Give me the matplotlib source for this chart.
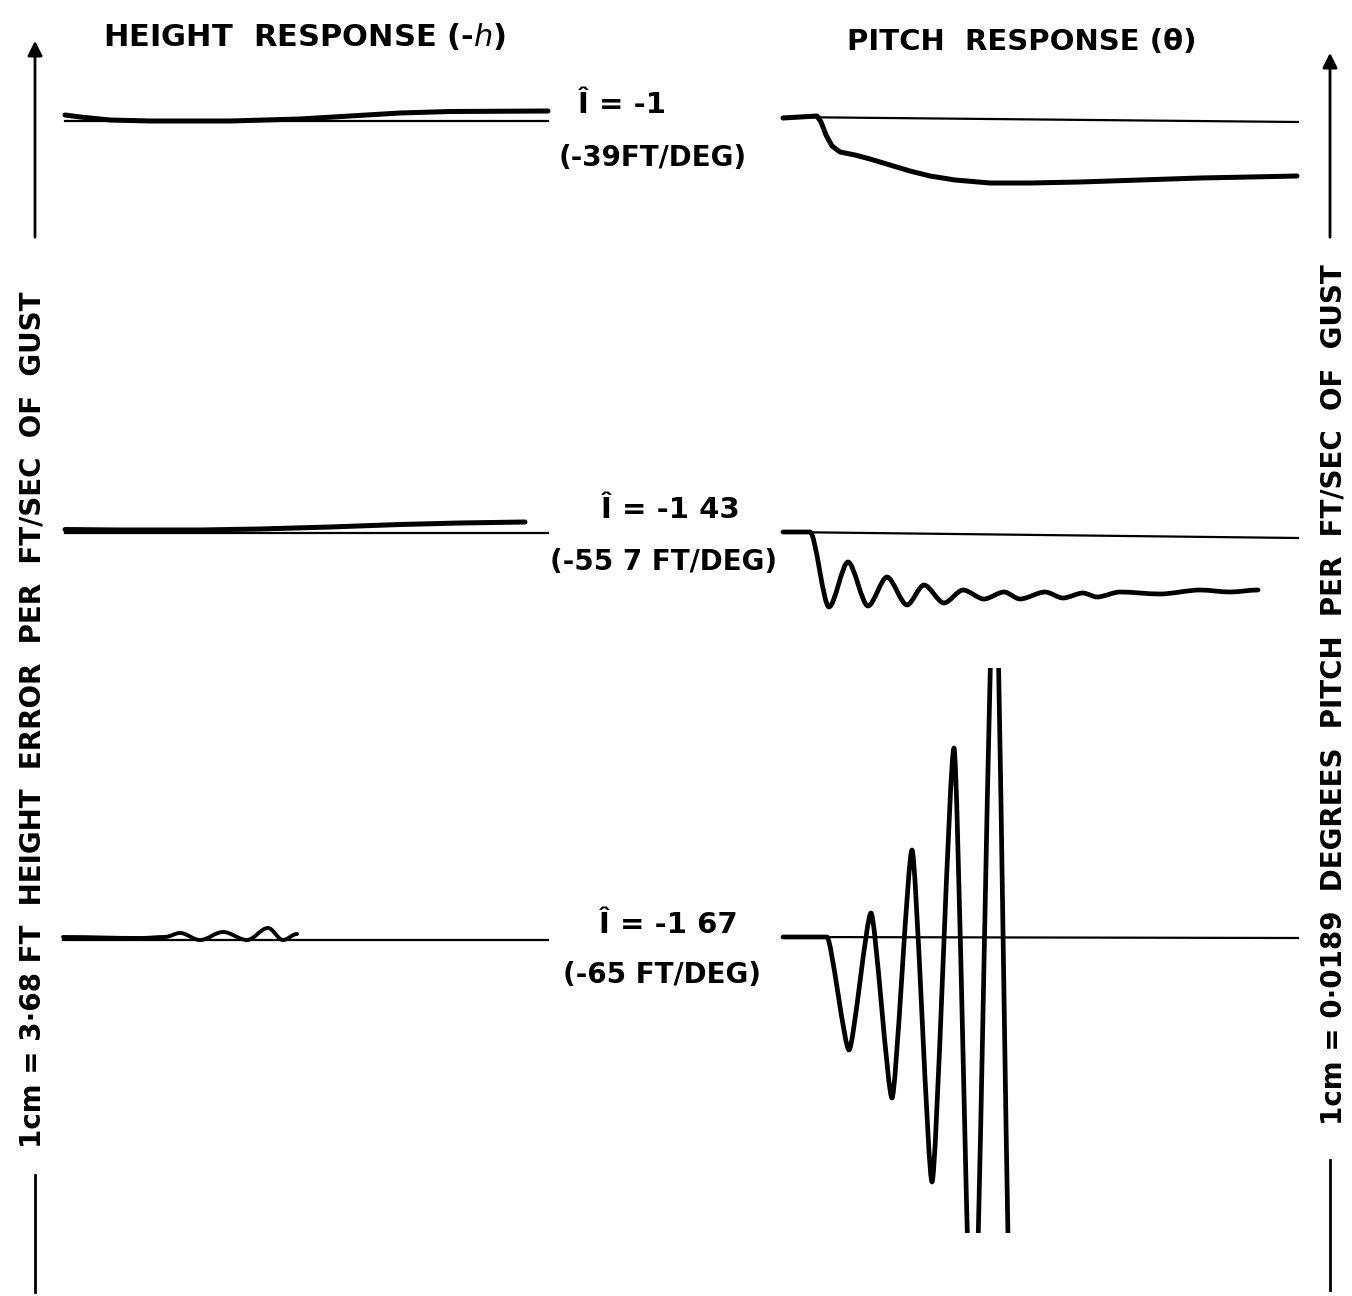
import matplotlib
matplotlib.use("Agg")
import matplotlib.pyplot as plt
from matplotlib.path import Path
from matplotlib.patches import PathPatch

W, H = 1352, 1296

# t = distance along the trace from the panel origin, v = deflection (up positive)
# height response, I = -1
h1_base_t = [5, 488]
h1_base_v = [0, 0]
h1_t = [5, 20, 50, 90, 170, 240, 290, 340, 390, 488]
h1_v = [6, 4, 1, 0, 0, 2, 5, 8, 9.5, 10]

# height response, I = -1.43
h2_base_t = [5, 488]
h2_base_v = [0, 0]
h2_t = [5, 60, 140, 200, 270, 340, 400, 465]
h2_v = [3.5, 3, 3, 4, 6, 8.5, 10, 11]

# height response, I = -1.67 (turning points)
h3_base_t = [3, 488]
h3_base_v = [0, 0]
h3_t = [3, 80, 105, 120, 140, 163, 187, 208, 223, 237]
h3_v = [3, 2, 3, 7, 0, 8, 0, 12, 0, 6]

# pitch response, I = -1
p1_base_t = [3, 518]
p1_base_v = [0, -5]
p1_t = [3, 20, 37, 41, 46, 52, 60, 75, 90, 110, 130, 150, 175, 210, 250, 300, 360, 420, 470, 517]
p1_v = [-1, 0, 1, -5, -18, -29, -35, -38, -42, -48, -54, -59, -63, -66, -66, -65, -63, -61, -60, -59]

# pitch response, I = -1.43 (turning points)
p2_base_t = [3, 518]
p2_base_v = [0, -6]
p2_t = [3, 30, 49, 68, 88, 107, 127, 144, 164, 183, 204, 224, 240, 265, 283, 303, 317, 340, 380, 420, 450, 478]
p2_v = [0, 0, -75, -30, -74, -45, -73, -53, -71, -58, -67, -60, -67, -60, -66, -61, -65, -60, -62, -58, -60, -58]

# pitch response, I = -1.67 (turning points, runs off the sheet)
p3_base_t = [3, 518]
p3_base_v = [0, -1]
p3_t = [3, 47, 69, 91, 112, 132, 152, 174, 193, 215, 232]
p3_v = [0, 0, -113, 24, -161, 87, -245, 189, -463, 410, -463]

labels_top = ["\u00ce = -1", "\u00ce = -1 43", "\u00ce = -1 67"]
labels_bot = ["(-39FT/DEG)", "(-55 7 FT/DEG)", "(-65 FT/DEG)"]

fig = plt.figure(figsize=(W / 100, H / 100), dpi=100)


def panel(box, x0, yb):
    l, t, r, b = box
    ax = fig.add_axes([l / W, 1 - b / H, (r - l) / W, (b - t) / H])
    ax.set_xlim(l - x0, r - x0)
    ax.set_ylim(yb - b, yb - t)
    ax.axis('off')
    return ax


def smooth(ax, t, v, k=0.35, lw=3.4):
    verts = [(t[0], v[0])]
    codes = [Path.MOVETO]
    for i in range(1, len(t)):
        dt = t[i] - t[i - 1]
        verts += [(t[i - 1] + k * dt, v[i - 1]), (t[i] - k * dt, v[i]), (t[i], v[i])]
        codes += [Path.CURVE4] * 3
    ax.add_patch(PathPatch(Path(verts, codes), fill=False, lw=lw, color='k',
                           capstyle='round', joinstyle='round'))


thin = 1.6
thick = 3.6

axL1 = panel((40, 60, 560, 200), 60, 121)
axL1.plot(h1_base_t, h1_base_v, color='k', lw=thin)
axL1.plot(h1_t, h1_v, color='k', lw=thick, solid_capstyle='round')

axL2 = panel((40, 460, 560, 620), 60, 533)
axL2.plot(h2_base_t, h2_base_v, color='k', lw=thin)
axL2.plot(h2_t, h2_v, color='k', lw=thick, solid_capstyle='round')

axL3 = panel((40, 880, 560, 1000), 60, 940)
axL3.plot(h3_base_t, h3_base_v, color='k', lw=thin)
smooth(axL3, h3_t, h3_v, k=0.35, lw=2.8)

axR1 = panel((770, 60, 1310, 260), 780, 117)
axR1.plot(p1_base_t, p1_base_v, color='k', lw=thin)
axR1.plot(p1_t, p1_v, color='k', lw=thick, solid_capstyle='round')

axR2 = panel((770, 480, 1310, 660), 780, 532)
axR2.plot(p2_base_t, p2_base_v, color='k', lw=thin)
smooth(axR2, p2_t, p2_v, k=0.3)

axR3 = panel((770, 668, 1310, 1233), 780, 937)
axR3.plot(p3_base_t, p3_base_v, color='k', lw=thin)
smooth(axR3, p3_t, p3_v, k=0.2)

# frame: arrows, titles, scale notes
ov = fig.add_axes([0, 0, 1, 1])
ov.set_xlim(0, W)
ov.set_ylim(H, 0)
ov.axis('off')
ov.patch.set_alpha(0)

arrow = dict(arrowstyle='-|>', lw=2, color='k', mutation_scale=22)
ov.annotate('', xy=(35, 38), xytext=(35, 240), arrowprops=arrow)
ov.annotate('', xy=(1330, 50), xytext=(1330, 240), arrowprops=arrow)
ov.plot([35, 35], [1175, 1292], color='k', lw=2)
ov.plot([1330, 1330], [1160, 1290], color='k', lw=2)

ov.text(305, 37, "HEIGHT  RESPONSE (-$\\mathit{h}$)", ha='center', va='center',
        fontsize=22, fontweight='bold')
ov.text(1022, 42, "PITCH  RESPONSE (\u03b8)", ha='center', va='center',
        fontsize=21, fontweight='bold')

ov.text(33, 720, "1cm = 3\u00b768 FT  HEIGHT  ERROR  PER  FT/SEC  OF  GUST",
        rotation=90, ha='center', va='center', fontsize=20, fontweight='bold')
ov.text(1333, 695, "1cm = 0\u00b70189  DEGREES  PITCH  PER  FT/SEC  OF  GUST",
        rotation=90, ha='center', va='center', fontsize=20, fontweight='bold')

top_pos = [(622, 105), (670, 510), (668, 925)]
bot_pos = [(653, 158), (664, 562), (662, 975)]
for s, (x, y) in zip(labels_top, top_pos):
    ov.text(x, y, s, ha='center', va='center', fontsize=21, fontweight='bold')
for s, (x, y) in zip(labels_bot, bot_pos):
    ov.text(x, y, s, ha='center', va='center', fontsize=20, fontweight='bold')

fig.savefig("out.png", dpi=100, facecolor='white')
